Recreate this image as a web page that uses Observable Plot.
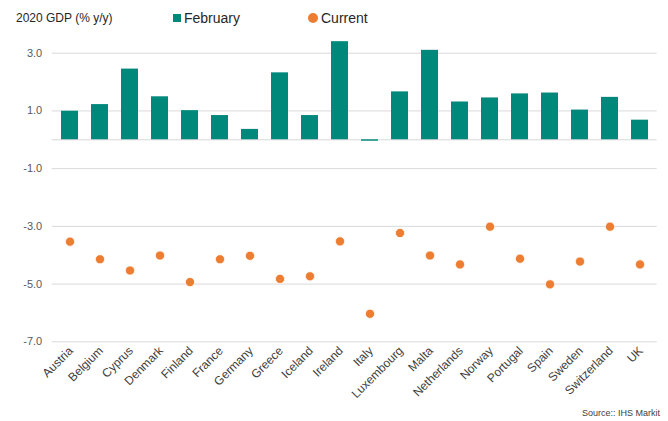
<!DOCTYPE html>
<html>
<head>
<meta charset="utf-8">
<script src="https://cdn.jsdelivr.net/npm/d3@7"></script>
<script src="https://cdn.jsdelivr.net/npm/@observablehq/plot@0.6"></script>
<style>
  html, body { margin: 0; padding: 0; background: #fff; }
  body { width: 668px; height: 421px; overflow: hidden; font-family: "Liberation Sans", Arial, sans-serif; }
  #header { position: relative; height: 30px; }
  #title { position: absolute; left: 16px; top: 11px; font-size: 12px; color: #262626; line-height: 14px; }
  .leg { position: absolute; top: 10px; font-size: 14px; color: #262626; line-height: 16px; }
  .sw { display: inline-block; vertical-align: middle; margin-right: 3px; position: relative; top: -1px; }
  #source { height: 16px; text-align: right; padding-right: 8px; font-size: 9px; color: #404040; line-height: 16px; }
  #chart svg { display: block; }
</style>
</head>
<body>
<div id="header">
  <div id="title">2020 GDP (% y/y)</div>
  <div class="leg" style="left:173px"><span class="sw" style="width:8px;height:8px;background:#00897b"></span>February</div>
  <div class="leg" style="left:308px"><span class="sw" style="width:10px;height:10px;border-radius:50%;background:#ed7d31"></span>Current</div>
</div>
<div id="chart"></div>
<div id="source">Source:: IHS Markit</div>
<script>
const countries = ["Austria","Belgium","Cyprus","Denmark","Finland","France","Germany","Greece","Iceland","Ireland","Italy","Luxembourg","Malta","Netherlands","Norway","Portugal","Spain","Sweden","Switzerland","UK"];
const february = [0.99, 1.22, 2.45, 1.49, 1.01, 0.84, 0.36, 2.32, 0.84, 3.40, -0.05, 1.66, 3.10, 1.31, 1.45, 1.59, 1.62, 1.03, 1.47, 0.68];
const current = [-3.53, -4.14, -4.53, -4.01, -4.93, -4.14, -4.02, -4.82, -4.73, -3.52, -6.03, -3.23, -4.01, -4.32, -3.01, -4.12, -5.01, -4.22, -3.01, -4.32];
const yTicks = [-7, -5, -3, -1, 1, 3];

const data = countries.map((c, i) => ({country: c, feb: february[i], cur: current[i]}));

const chart = Plot.plot({
  width: 668,
  height: 375,
  marginLeft: 51.7,
  marginRight: 11.3,
  marginTop: 5.4,
  marginBottom: 63.7,
  style: {fontFamily: "'Liberation Sans', Arial, sans-serif", background: "#fff"},
  x: {domain: countries, paddingInner: 0.44, paddingOuter: 0.22, label: null},
  y: {domain: [-7, 3.6], label: null},
  marks: [
    Plot.ruleY(yTicks, {stroke: "#d9d9d9", strokeWidth: 1}),
    Plot.ruleY([0], {stroke: "#d9d9d9", strokeWidth: 1}),
    Plot.barY(data, {x: "country", y: "feb", fill: "#00897b"}),
    Plot.dot(data, {x: "country", y: "cur", r: 4.6, fill: "#ed7d31", stroke: "#fff", strokeWidth: 0.8}),
    Plot.axisY({ticks: yTicks, tickFormat: d => d.toFixed(1), tickSize: 0, tickPadding: 10, fontSize: 11, color: "#595959"}),
    Plot.axisX({tickRotate: -45, tickSize: 0, tickPadding: 7, fontSize: 12, color: "#404040", dx: 1, label: null})
  ]
});
document.getElementById("chart").appendChild(chart);
</script>
</body>
</html>
